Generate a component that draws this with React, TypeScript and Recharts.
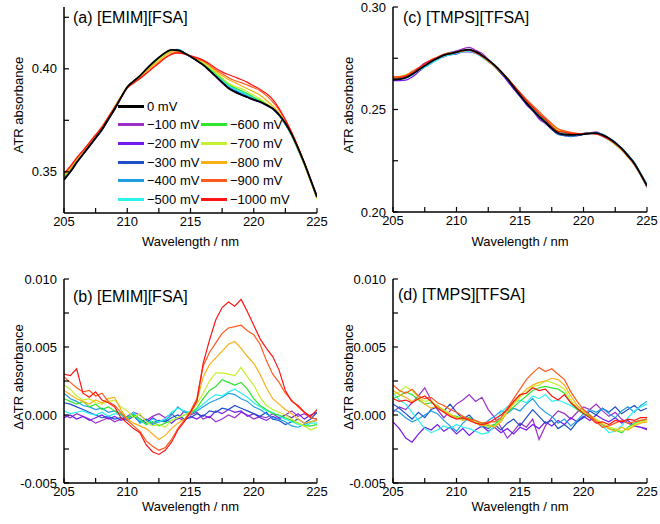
import React from "react";
import { LineChart, Line, XAxis, YAxis } from "recharts";

const FONT = "'Liberation Sans', Arial, sans-serif";

const wavelength = [205, 205.5, 206, 206.5, 207, 207.5, 208, 208.5, 209, 209.5, 210, 210.5, 211, 211.5, 212, 212.5, 213, 213.5, 214, 214.5, 215, 215.5, 216, 216.5, 217, 217.5, 218, 218.5, 219, 219.5, 220, 220.5, 221, 221.5, 222, 222.5, 223, 223.5, 224, 224.5, 225];
const xTicks = [205, 207.5, 210, 212.5, 215, 217.5, 220, 222.5, 225];
const xLabels = [205, 210, 215, 220, 225];

const seriesNames = ["0 mV", "−100 mV", "−200 mV", "−300 mV", "−400 mV", "−500 mV", "−600 mV", "−700 mV", "−800 mV", "−900 mV", "−1000 mV"];
const seriesColors = ["#000000", "#9b30c8", "#7418f0", "#1c4fc8", "#1f9ee6", "#2cf2ee", "#2ee62e", "#c4f032", "#f8b014", "#ff5a1e", "#ff1414"];

// (a) [EMIM][FSA] ATR absorbance
const emimAbs0 = [0.3462, 0.35, 0.3545, 0.3585, 0.3625, 0.3665, 0.3705, 0.3755, 0.3805, 0.386, 0.3912, 0.394, 0.3966, 0.3998, 0.4028, 0.4055, 0.4078, 0.4092, 0.409, 0.4077, 0.406, 0.404, 0.4019, 0.3992, 0.3963, 0.3934, 0.3906, 0.3888, 0.3874, 0.3862, 0.385, 0.384, 0.3825, 0.3807, 0.3777, 0.3736, 0.3682, 0.3615, 0.3542, 0.3461, 0.3378];
const emimAbs100 = [0.3462, 0.3499, 0.3545, 0.3584, 0.3622, 0.3661, 0.3701, 0.3752, 0.3802, 0.3858, 0.3911, 0.394, 0.3966, 0.3996, 0.4027, 0.4055, 0.4077, 0.4092, 0.4089, 0.4078, 0.406, 0.4041, 0.4018, 0.399, 0.396, 0.3931, 0.3905, 0.3887, 0.3874, 0.3862, 0.3848, 0.3838, 0.3823, 0.3807, 0.3776, 0.3736, 0.3683, 0.3615, 0.3542, 0.346, 0.3376];
const emimAbs200 = [0.346, 0.3499, 0.3543, 0.3583, 0.3622, 0.3663, 0.3704, 0.3753, 0.3803, 0.3857, 0.391, 0.3939, 0.3963, 0.3994, 0.4025, 0.4051, 0.4074, 0.4088, 0.4087, 0.4074, 0.4058, 0.4038, 0.4018, 0.3991, 0.3964, 0.3936, 0.3909, 0.3891, 0.3876, 0.3862, 0.385, 0.3838, 0.3822, 0.3805, 0.3775, 0.3735, 0.3681, 0.3615, 0.354, 0.3461, 0.3379];
const emimAbs300 = [0.3471, 0.3508, 0.3551, 0.3589, 0.3627, 0.3665, 0.3703, 0.3754, 0.3803, 0.3858, 0.3909, 0.3938, 0.3962, 0.3995, 0.4023, 0.4051, 0.4074, 0.409, 0.409, 0.4075, 0.4058, 0.404, 0.4019, 0.3994, 0.3965, 0.3938, 0.391, 0.3894, 0.3879, 0.3865, 0.3851, 0.384, 0.3826, 0.3805, 0.3773, 0.373, 0.3677, 0.3611, 0.3537, 0.3458, 0.3379];
const emimAbs400 = [0.3478, 0.3512, 0.3555, 0.3592, 0.3631, 0.3669, 0.371, 0.3757, 0.3808, 0.386, 0.391, 0.3939, 0.3961, 0.3993, 0.4022, 0.405, 0.4075, 0.4092, 0.4094, 0.4079, 0.4061, 0.4043, 0.4023, 0.3998, 0.397, 0.3943, 0.3919, 0.3901, 0.3885, 0.3871, 0.3856, 0.3844, 0.3826, 0.3805, 0.3774, 0.3731, 0.3674, 0.3606, 0.3535, 0.3456, 0.3374];
const emimAbs500 = [0.3465, 0.3502, 0.3547, 0.3587, 0.3626, 0.3666, 0.3706, 0.3755, 0.3805, 0.386, 0.3911, 0.3939, 0.3963, 0.3994, 0.4024, 0.4051, 0.4076, 0.4092, 0.4092, 0.4079, 0.4062, 0.4043, 0.4024, 0.3999, 0.3972, 0.3944, 0.3919, 0.3903, 0.3889, 0.3874, 0.3859, 0.3846, 0.3828, 0.3809, 0.3776, 0.3733, 0.3677, 0.3608, 0.3534, 0.3455, 0.3372];
const emimAbs600 = [0.3474, 0.351, 0.3554, 0.3594, 0.3632, 0.3672, 0.371, 0.376, 0.3808, 0.3861, 0.391, 0.3939, 0.3963, 0.3992, 0.4022, 0.4048, 0.4072, 0.4088, 0.4088, 0.4077, 0.4061, 0.4044, 0.4026, 0.4003, 0.3976, 0.3952, 0.3925, 0.3908, 0.3895, 0.388, 0.3862, 0.3847, 0.3829, 0.3808, 0.3777, 0.3734, 0.3678, 0.3609, 0.3534, 0.3453, 0.3371];
const emimAbs700 = [0.3484, 0.3519, 0.3559, 0.3596, 0.3636, 0.3674, 0.3713, 0.3765, 0.3815, 0.3866, 0.3915, 0.394, 0.3966, 0.3993, 0.4021, 0.4047, 0.407, 0.4088, 0.4088, 0.4077, 0.4062, 0.4046, 0.4029, 0.4007, 0.3981, 0.3956, 0.393, 0.3914, 0.3904, 0.3889, 0.3872, 0.3854, 0.3833, 0.3811, 0.3779, 0.3736, 0.3679, 0.3609, 0.3534, 0.3451, 0.3369];
const emimAbs800 = [0.348, 0.3515, 0.3557, 0.3595, 0.3634, 0.3675, 0.3715, 0.3766, 0.3817, 0.3865, 0.3909, 0.3934, 0.3958, 0.3988, 0.4014, 0.4038, 0.4063, 0.4082, 0.4084, 0.4074, 0.4061, 0.4048, 0.4036, 0.4014, 0.3988, 0.3967, 0.3948, 0.3934, 0.3918, 0.3903, 0.3888, 0.3872, 0.3847, 0.382, 0.3785, 0.374, 0.3683, 0.3612, 0.3536, 0.3456, 0.3374];
const emimAbs900 = [0.349, 0.3524, 0.3566, 0.3603, 0.3642, 0.368, 0.3719, 0.3765, 0.3812, 0.3862, 0.3908, 0.3932, 0.3954, 0.3979, 0.4005, 0.403, 0.4054, 0.4074, 0.408, 0.4073, 0.4063, 0.405, 0.4038, 0.4019, 0.3995, 0.3976, 0.3957, 0.3943, 0.3933, 0.3921, 0.3908, 0.3894, 0.387, 0.384, 0.3801, 0.3752, 0.3693, 0.3621, 0.3544, 0.3459, 0.3375];
const emimAbs1000 = [0.3492, 0.3528, 0.3568, 0.3603, 0.364, 0.3679, 0.3716, 0.3764, 0.3811, 0.3859, 0.3906, 0.393, 0.3952, 0.3977, 0.4002, 0.4027, 0.4052, 0.407, 0.4076, 0.4072, 0.4063, 0.4054, 0.4042, 0.4024, 0.4003, 0.3985, 0.3972, 0.396, 0.3948, 0.3934, 0.3917, 0.39, 0.388, 0.3852, 0.3808, 0.3752, 0.369, 0.362, 0.3544, 0.3461, 0.338];

// (b) [EMIM][FSA] difference spectra
const emimDiff100 = [0, -0.0002, 0.0001, -0.0001, -0.0003, -0.0006, -0.0004, -0.0002, -0.0005, -0.0003, -0.0001, 0.0002, 0, -0.0004, -0.0001, 0.0001, -0.0002, 0.0001, -0.0003, 0.0003, 0, 0.0002, -0.0003, -0.0001, -0.0005, -0.0003, 0, -0.0002, 0.0002, 0, -0.0003, -0.0001, -0.0002, 0.0001, -0.0002, 0, 0.0003, -0.0001, 0.0001, -0.0002, -0.0003];
const emimDiff200 = [-0.0002, 0, -0.0003, -0.0001, -0.0004, -0.0002, 0, -0.0003, -0.0001, -0.0004, -0.0002, 0.0001, -0.0003, -0.0006, -0.0002, -0.0005, -0.0003, -0.0006, -0.0002, -0.0004, -0.0001, -0.0003, 0, -0.0002, 0.0003, 0.0001, 0.0004, 0.0002, 0.0003, -0.0001, 0.0001, -0.0002, -0.0004, -0.0001, -0.0003, 0, -0.0002, 0.0001, -0.0003, 0, 0.0002];
const emimDiff300 = [0.0009, 0.0008, 0.0006, 0.0004, 0.0002, 0, -0.0002, -0.0001, -0.0003, -0.0002, -0.0004, -0.0001, -0.0005, -0.0003, -0.0006, -0.0004, -0.0005, -0.0002, 0, -0.0003, -0.0002, 0.0001, -0.0001, 0.0003, 0.0002, 0.0005, 0.0004, 0.0007, 0.0005, 0.0003, 0.0001, -0.0001, 0.0002, -0.0003, -0.0004, -0.0007, -0.0005, -0.0003, -0.0006, -0.0003, 0.0002];
const emimDiff400 = [0.0016, 0.0012, 0.001, 0.0007, 0.0006, 0.0004, 0.0005, 0.0002, 0.0003, 0, -0.0003, 0.0001, -0.0006, -0.0004, -0.0007, -0.0005, -0.0004, 0, 0.0006, 0.0002, 0.0001, 0.0003, 0.0006, 0.0009, 0.0011, 0.0013, 0.0016, 0.0015, 0.0012, 0.001, 0.0006, 0.0004, 0.0001, -0.0002, -0.0003, -0.0005, -0.0008, -0.0009, -0.0007, -0.0005, -0.0004];
const emimDiff500 = [0.0003, 0.0001, 0.0002, 0.0003, 0.0001, 0, 0.0002, -0.0001, 0.0001, 0, -0.0002, 0.0002, -0.0004, -0.0007, -0.0003, -0.0005, -0.0003, 0.0002, 0.0005, 0.0003, 0.0002, 0.0004, 0.0008, 0.0012, 0.0015, 0.0014, 0.0017, 0.0019, 0.0016, 0.0013, 0.0009, 0.0006, 0.0003, 0.0002, -0.0001, -0.0003, -0.0005, -0.0007, -0.0008, -0.0006, -0.0006];
const emimDiff600 = [0.0012, 0.001, 0.0008, 0.001, 0.0006, 0.0008, 0.0004, 0.0006, 0.0003, 0.0001, -0.0002, 0, -0.0003, -0.0007, -0.0005, -0.0008, -0.0006, -0.0004, -0.0002, 0, 0.0001, 0.0005, 0.0012, 0.0018, 0.0021, 0.0026, 0.0024, 0.0022, 0.0024, 0.0019, 0.0012, 0.0007, 0.0004, 0.0001, 0, -0.0002, -0.0004, -0.0006, -0.0008, -0.0008, -0.0007];
const emimDiff700 = [0.0022, 0.0019, 0.0014, 0.0011, 0.0012, 0.0009, 0.0008, 0.001, 0.0011, 0.0006, 0.0003, -0.0002, 0.0001, -0.0005, -0.0008, -0.0007, -0.0009, -0.0004, -0.0002, 0, 0.0002, 0.0008, 0.0016, 0.0025, 0.0031, 0.0031, 0.003, 0.0029, 0.0035, 0.0028, 0.0022, 0.0013, 0.0007, 0.0004, 0.0002, 0, -0.0003, -0.0006, -0.0008, -0.0011, -0.0009];
const emimDiff800 = [0.0018, 0.0015, 0.0012, 0.001, 0.0008, 0.0011, 0.0009, 0.0012, 0.0013, 0.0004, -0.0003, -0.0006, -0.0008, -0.001, -0.0014, -0.0018, -0.0015, -0.001, -0.0006, -0.0003, 0.0001, 0.001, 0.0028, 0.0037, 0.0042, 0.0047, 0.0052, 0.0054, 0.0049, 0.0043, 0.0038, 0.003, 0.002, 0.0012, 0.0008, 0.0004, 0.0001, -0.0003, -0.0006, -0.0005, -0.0004];
const emimDiff900 = [0.0028, 0.0024, 0.002, 0.0017, 0.0018, 0.0014, 0.0016, 0.001, 0.0007, 0.0002, -0.0004, -0.0008, -0.0012, -0.0019, -0.0023, -0.0026, -0.0024, -0.0018, -0.001, -0.0004, 0.0003, 0.0012, 0.0036, 0.0046, 0.0053, 0.006, 0.0064, 0.0065, 0.0066, 0.0062, 0.0059, 0.0052, 0.004, 0.003, 0.0024, 0.0016, 0.0011, 0.0006, 0.0002, -0.0002, -0.0003];
const emimDiff1000 = [0.003, 0.0029, 0.0034, 0.0016, 0.0013, 0.0017, 0.0011, 0.0009, 0.0006, -0.0002, -0.0006, -0.001, -0.0013, -0.0022, -0.0027, -0.0029, -0.0026, -0.002, -0.0011, -0.0005, 0.0002, 0.001, 0.0038, 0.0055, 0.007, 0.0079, 0.0083, 0.008, 0.0085, 0.0076, 0.0066, 0.0056, 0.0049, 0.0043, 0.0033, 0.0018, 0.001, 0.0007, 0.0002, -0.0001, 0.0004];

// (c) [TMPS][TFSA] ATR absorbance
const tmpsAbs0 = [0.2645, 0.2648, 0.2655, 0.2672, 0.2693, 0.2713, 0.2733, 0.275, 0.2765, 0.2773, 0.278, 0.2788, 0.2792, 0.2782, 0.2765, 0.2742, 0.2716, 0.2685, 0.265, 0.261, 0.257, 0.2532, 0.2498, 0.2466, 0.2438, 0.2408, 0.2385, 0.2378, 0.2376, 0.2377, 0.238, 0.2384, 0.2385, 0.2375, 0.236, 0.2337, 0.231, 0.2275, 0.2237, 0.2185, 0.2128];
const tmpsAbs100 = [0.2646, 0.2652, 0.2658, 0.2678, 0.2703, 0.2727, 0.2741, 0.2753, 0.2764, 0.2775, 0.2786, 0.2796, 0.2803, 0.2789, 0.2774, 0.2745, 0.2715, 0.2679, 0.2638, 0.2602, 0.2566, 0.2526, 0.2496, 0.2453, 0.2432, 0.2407, 0.2387, 0.2379, 0.2374, 0.2378, 0.2384, 0.2387, 0.2391, 0.2377, 0.2359, 0.2338, 0.2308, 0.2271, 0.2231, 0.2179, 0.212];
const tmpsAbs200 = [0.2641, 0.2641, 0.2643, 0.2658, 0.2683, 0.2707, 0.2725, 0.2745, 0.2757, 0.2767, 0.277, 0.2781, 0.2781, 0.2774, 0.2759, 0.2734, 0.271, 0.2676, 0.2643, 0.26, 0.2564, 0.2524, 0.2493, 0.2459, 0.2434, 0.2402, 0.2382, 0.2373, 0.2375, 0.2373, 0.2379, 0.2381, 0.2385, 0.2373, 0.2356, 0.2336, 0.2306, 0.2272, 0.2231, 0.2179, 0.2121];
const tmpsAbs300 = [0.2651, 0.2652, 0.2656, 0.267, 0.2694, 0.2712, 0.2736, 0.2754, 0.2767, 0.2779, 0.2781, 0.2786, 0.2792, 0.2778, 0.2759, 0.2735, 0.2711, 0.2677, 0.2646, 0.2608, 0.2564, 0.2531, 0.2501, 0.2465, 0.2434, 0.2405, 0.2378, 0.2373, 0.2368, 0.2373, 0.2379, 0.2386, 0.2385, 0.2379, 0.2361, 0.2341, 0.2311, 0.2278, 0.2242, 0.2187, 0.2132];
const tmpsAbs400 = [0.2648, 0.2649, 0.2654, 0.2668, 0.2691, 0.2713, 0.2735, 0.2751, 0.2762, 0.2767, 0.2772, 0.2784, 0.2791, 0.2778, 0.2759, 0.2739, 0.2715, 0.2687, 0.2651, 0.2614, 0.2572, 0.2538, 0.2506, 0.247, 0.2439, 0.2407, 0.2381, 0.2376, 0.237, 0.2374, 0.2381, 0.2387, 0.2386, 0.2379, 0.2361, 0.2336, 0.2312, 0.2279, 0.2238, 0.219, 0.2135];
const tmpsAbs500 = [0.2656, 0.2656, 0.2661, 0.2673, 0.269, 0.2706, 0.2724, 0.2742, 0.2759, 0.2766, 0.2775, 0.2782, 0.2785, 0.2774, 0.2755, 0.2733, 0.271, 0.2686, 0.2654, 0.2616, 0.2578, 0.2538, 0.2508, 0.2474, 0.2449, 0.2415, 0.2393, 0.2384, 0.2381, 0.238, 0.2381, 0.2383, 0.2382, 0.2369, 0.2351, 0.2329, 0.2304, 0.2274, 0.2239, 0.2189, 0.2134];
const tmpsAbs600 = [0.2653, 0.2658, 0.2667, 0.2683, 0.2701, 0.2719, 0.2739, 0.2755, 0.2767, 0.2773, 0.2779, 0.2786, 0.2791, 0.2778, 0.2761, 0.2736, 0.2711, 0.2683, 0.2651, 0.2614, 0.2577, 0.2542, 0.2511, 0.248, 0.2453, 0.2422, 0.2398, 0.2389, 0.2382, 0.238, 0.2381, 0.2383, 0.2382, 0.237, 0.2353, 0.2329, 0.2301, 0.2269, 0.2233, 0.2182, 0.2125];
const tmpsAbs700 = [0.2656, 0.266, 0.267, 0.2685, 0.2702, 0.272, 0.2741, 0.2754, 0.2768, 0.2774, 0.2779, 0.2787, 0.2789, 0.2778, 0.276, 0.2736, 0.271, 0.2682, 0.2652, 0.2616, 0.2579, 0.2544, 0.2513, 0.2481, 0.2456, 0.2425, 0.24, 0.2391, 0.2384, 0.2381, 0.2381, 0.2384, 0.2383, 0.2371, 0.2354, 0.233, 0.2302, 0.2268, 0.2232, 0.2181, 0.2125];
const tmpsAbs800 = [0.2658, 0.2659, 0.2664, 0.2679, 0.2701, 0.2719, 0.2737, 0.2755, 0.2767, 0.2773, 0.2779, 0.2785, 0.279, 0.2778, 0.2759, 0.2737, 0.271, 0.2681, 0.2651, 0.2616, 0.258, 0.2545, 0.2513, 0.2483, 0.2456, 0.2427, 0.2403, 0.2393, 0.2386, 0.2382, 0.2382, 0.2384, 0.2382, 0.237, 0.2353, 0.2329, 0.2304, 0.2267, 0.2231, 0.2181, 0.2124];
const tmpsAbs900 = [0.266, 0.2661, 0.2666, 0.2685, 0.2703, 0.2721, 0.2742, 0.2756, 0.277, 0.2776, 0.2781, 0.2787, 0.279, 0.2779, 0.2761, 0.2738, 0.2712, 0.2684, 0.2654, 0.2618, 0.2583, 0.255, 0.252, 0.2491, 0.246, 0.2432, 0.2406, 0.2396, 0.2388, 0.2384, 0.2383, 0.2384, 0.2381, 0.2369, 0.2354, 0.2333, 0.2307, 0.2271, 0.2233, 0.2182, 0.2126];
const tmpsAbs1000 = [0.2653, 0.2655, 0.2663, 0.2678, 0.2701, 0.2723, 0.274, 0.2754, 0.2766, 0.2772, 0.2778, 0.2787, 0.2789, 0.2778, 0.276, 0.2738, 0.2714, 0.2685, 0.2653, 0.2617, 0.2581, 0.2543, 0.2512, 0.2479, 0.2451, 0.2418, 0.2393, 0.2389, 0.2382, 0.2381, 0.2381, 0.2383, 0.2381, 0.2371, 0.2355, 0.2334, 0.2306, 0.2273, 0.2234, 0.2184, 0.2127];

// (d) [TMPS][TFSA] difference spectra
const tmpsDiff100 = [0.0002, 0.0006, 0.0004, 0.0009, 0.0014, 0.002, 0.0011, 0.0004, -0.0002, 0.0003, 0.0008, 0.0011, 0.0015, 0.001, 0.0013, 0.0004, -0.0002, -0.0009, -0.0017, -0.0012, -0.0006, -0.0009, -0.0003, -0.0018, -0.0008, -0.0002, 0.0003, 0.0001, -0.0003, 0.0002, 0.0006, 0.0004, 0.0008, 0.0003, -0.0001, 0.0002, -0.0003, -0.0006, -0.0008, -0.0009, -0.0011];
const tmpsDiff200 = [-0.0005, -0.001, -0.0017, -0.002, -0.0014, -0.0009, -0.0011, -0.0007, -0.0012, -0.0009, -0.0014, -0.001, -0.0015, -0.0011, -0.0008, -0.0012, -0.0009, -0.0013, -0.001, -0.0014, -0.0009, -0.0011, -0.0007, -0.001, -0.0005, -0.0008, -0.0004, -0.0007, -0.0002, -0.0005, -0.0001, -0.0004, 0, -0.0003, -0.0005, -0.0002, -0.0006, -0.0004, -0.0008, -0.0009, -0.001];
const tmpsDiff300 = [0.0008, 0.0005, 0.0001, -0.0003, 0.0002, -0.0002, 0.0004, 0.0006, 0.0003, 0.0008, 0.0002, -0.0003, 0, -0.0005, -0.0008, -0.001, -0.0007, -0.0011, -0.0006, -0.0003, -0.0008, -0.0002, 0.0004, -0.0001, -0.0006, -0.0004, -0.001, -0.0007, -0.0011, -0.0005, -0.0002, 0.0003, 0, 0.0005, 0.0002, 0.0006, 0.0001, 0.0004, 0.0007, 0.0003, 0.0005];
const tmpsDiff400 = [0.0004, 0.0002, -0.0002, -0.0005, -0.0003, 0, 0.0003, 0.0001, -0.0004, -0.0008, -0.0012, -0.0006, -0.0002, -0.0005, -0.0009, -0.0004, -0.0001, 0.0003, 0.0001, 0.0005, 0.0003, 0.0008, 0.0012, 0.0006, 0.0002, -0.0001, -0.0006, -0.0003, -0.0008, -0.0004, 0.0001, 0.0004, 0.0002, 0.0005, 0.0001, -0.0002, 0.0003, 0.0006, 0.0002, 0.0007, 0.001];
const tmpsDiff500 = [0.0016, 0.0011, 0.0008, 0.0002, -0.0004, -0.001, -0.0013, -0.0011, -0.0008, -0.001, -0.0007, -0.0009, -0.001, -0.0012, -0.0014, -0.0013, -0.0008, 0.0002, 0.0006, 0.0009, 0.0011, 0.0009, 0.0014, 0.0012, 0.0015, 0.001, 0.0011, 0.0009, 0.0007, 0.0004, 0.0001, -0.0002, -0.0004, -0.0008, -0.0013, -0.0012, -0.0008, -0.0002, 0.0003, 0.0006, 0.0008];
const tmpsDiff600 = [0.0012, 0.0014, 0.0017, 0.0015, 0.0011, 0.0008, 0.0009, 0.0007, 0.0003, 0, -0.0001, -0.0003, -0.0002, -0.0005, -0.0006, -0.0008, -0.0007, -0.0003, 0.0002, 0.0006, 0.001, 0.0014, 0.0018, 0.002, 0.0021, 0.002, 0.0019, 0.0016, 0.0009, 0.0004, 0.0001, -0.0001, -0.0004, -0.0007, -0.001, -0.0011, -0.0013, -0.0009, -0.0006, -0.0004, -0.0004];
const tmpsDiff700 = [0.0015, 0.0017, 0.0021, 0.0018, 0.0013, 0.001, 0.0011, 0.0006, 0.0004, 0.0001, -0.0002, -0.0001, -0.0004, -0.0005, -0.0007, -0.0009, -0.0008, -0.0004, 0.0003, 0.0008, 0.0013, 0.0017, 0.0021, 0.0022, 0.0025, 0.0024, 0.0022, 0.0019, 0.0011, 0.0005, 0.0002, 0, -0.0003, -0.0006, -0.0009, -0.001, -0.0012, -0.001, -0.0007, -0.0005, -0.0004];
const tmpsDiff800 = [0.0018, 0.0015, 0.0013, 0.001, 0.0012, 0.0008, 0.0005, 0.0007, 0.0003, 0, -0.0002, -0.0004, -0.0003, -0.0006, -0.0008, -0.0007, -0.0009, -0.0005, 0.0002, 0.0009, 0.0014, 0.0019, 0.0022, 0.0024, 0.0025, 0.0027, 0.0026, 0.0022, 0.0014, 0.0007, 0.0003, 0, -0.0004, -0.0007, -0.001, -0.0012, -0.0009, -0.0011, -0.0008, -0.0006, -0.0005];
const tmpsDiff900 = [0.0022, 0.0018, 0.0016, 0.0019, 0.0014, 0.0012, 0.0013, 0.0009, 0.0007, 0.0004, 0.0002, -0.0001, -0.0003, -0.0004, -0.0006, -0.0005, -0.0005, -0.0002, 0.0005, 0.0012, 0.0019, 0.0026, 0.0031, 0.0035, 0.0032, 0.0034, 0.003, 0.0026, 0.0017, 0.001, 0.0004, 0, -0.0005, -0.0009, -0.0008, -0.0006, -0.0004, -0.0006, -0.0005, -0.0004, -0.0003];
const tmpsDiff1000 = [0.0012, 0.001, 0.0011, 0.0009, 0.0012, 0.0014, 0.001, 0.0005, 0.0002, -0.0001, -0.0003, -0.0002, -0.0004, -0.0006, -0.0007, -0.0006, -0.0003, 0, 0.0004, 0.001, 0.0015, 0.0016, 0.002, 0.0018, 0.0019, 0.0014, 0.0011, 0.0015, 0.0009, 0.0005, 0.0001, -0.0002, -0.0006, -0.0005, -0.0007, -0.0004, -0.0005, -0.0003, -0.0004, -0.0002, -0.0002];

const emimAbs = [emimAbs0, emimAbs100, emimAbs200, emimAbs300, emimAbs400, emimAbs500, emimAbs600, emimAbs700, emimAbs800, emimAbs900, emimAbs1000];
const emimDiff = [emimDiff100, emimDiff200, emimDiff300, emimDiff400, emimDiff500, emimDiff600, emimDiff700, emimDiff800, emimDiff900, emimDiff1000];
const tmpsAbs = [tmpsAbs0, tmpsAbs100, tmpsAbs200, tmpsAbs300, tmpsAbs400, tmpsAbs500, tmpsAbs600, tmpsAbs700, tmpsAbs800, tmpsAbs900, tmpsAbs1000];
const tmpsDiff = [tmpsDiff100, tmpsDiff200, tmpsDiff300, tmpsDiff400, tmpsDiff500, tmpsDiff600, tmpsDiff700, tmpsDiff800, tmpsDiff900, tmpsDiff1000];

type PanelProps = {
  left: number;
  top: number;
  series: number[][];
  firstColor: number;
  smooth: boolean;
  yDomain: [number, number];
  yTicks: number[];
  yLabels: number[];
  digits: number;
  yTitle: string;
  tag: string;
  tagX: number;
  tagY: number;
  mTop: number;
  mBottom: number;
  mLeft: number;
  titleY: number;
  yTitleY: number;
  legend?: boolean;
};

const axisCommon = {
  stroke: "#000",
  axisLine: { stroke: "#000", strokeWidth: 1.5 },
  tickLine: { stroke: "#000", strokeWidth: 1.2 },
  tickSize: -5,
  interval: 0 as const,
  allowDataOverflow: true,
};

function Panel(p: PanelProps) {
  const data = wavelength.map((w, i) => {
    const row: Record<string, number> = { w };
    p.series.forEach((s, k) => {
      row["s" + k] = s[i];
    });
    return row;
  });
  // 0 mV (black) goes on top of the coloured curves
  const order = p.series.map((_, k) => k);
  if (p.firstColor === 0) order.push(order.shift() as number);
  const plotLeft = p.mLeft + 54;
  const plotRight = 330 - 13;
  return (
    <div style={{ position: "absolute", left: p.left, top: p.top, width: 330, height: 262 }}>
      <LineChart width={330} height={262} data={data} margin={{ top: p.mTop, right: 13, bottom: p.mBottom, left: p.mLeft }} style={{ fontFamily: FONT }}>
        <XAxis
          xAxisId="b"
          dataKey="w"
          type="number"
          domain={[205, 225]}
          ticks={xTicks}
          tickFormatter={(v: number) => (xLabels.includes(v) ? String(v) : "")}
          height={30}
          tickMargin={9}
          tick={{ fill: "#000", fontSize: 13, fontFamily: FONT }}
          {...axisCommon}
        />
        <XAxis xAxisId="t" orientation="top" dataKey="w" type="number" domain={[205, 225]} ticks={xTicks} height={0} tick={false} {...axisCommon} />
        <YAxis
          yAxisId="l"
          type="number"
          domain={p.yDomain}
          ticks={p.yTicks}
          width={54}
          tickMargin={12}
          tickFormatter={(v: number) => (p.yLabels.includes(v) ? v.toFixed(p.digits) : "")}
          tick={{ fill: "#000", fontSize: 13, fontFamily: FONT }}
          {...axisCommon}
        />
        <YAxis yAxisId="r" orientation="right" type="number" domain={p.yDomain} ticks={p.yTicks} width={0} tick={false} {...axisCommon} />
        {order.map((k) => {
          const ci = k + p.firstColor;
          return (
            <Line
              key={ci}
              xAxisId="b"
              yAxisId="l"
              dataKey={"s" + k}
              type={p.smooth ? "monotone" : "linear"}
              stroke={seriesColors[ci]}
              strokeWidth={ci === 0 ? 1.8 : 1.2}
              dot={false}
              activeDot={false}
              isAnimationActive={false}
            />
          );
        })}
      </LineChart>
      <div style={{ position: "absolute", left: p.tagX, top: p.tagY, fontSize: 16, lineHeight: "16px", fontFamily: FONT, whiteSpace: "nowrap" }}>{p.tag}</div>
      <div
        style={{
          position: "absolute",
          left: plotLeft,
          width: plotRight - plotLeft,
          top: p.titleY - 8,
          fontSize: 13,
          lineHeight: "16px",
          textAlign: "center",
          fontFamily: FONT,
        }}
      >
        Wavelength / nm
      </div>
      <div
        style={{
          position: "absolute",
          left: 19,
          top: p.yTitleY,
          transform: "translate(-50%, -50%) rotate(-90deg)",
          fontSize: 13,
          lineHeight: "16px",
          fontFamily: FONT,
          whiteSpace: "nowrap",
        }}
      >
        {p.yTitle}
      </div>
      {p.legend &&
        seriesNames.map((name, k) => {
          const col = k < 6 ? 0 : 1;
          const row = k < 6 ? k : k - 5;
          return (
            <div
              key={name}
              style={{
                position: "absolute",
                left: col === 0 ? 118 : 201,
                top: 106 + row * 18.7 - 8,
                height: 16,
                display: "flex",
                alignItems: "center",
                fontSize: 13,
                fontFamily: FONT,
                whiteSpace: "nowrap",
              }}
            >
              <span style={{ display: "inline-block", width: 26, height: 3, background: seriesColors[k], marginRight: 3 }} />
              <span>{name}</span>
            </div>
          );
        })}
    </div>
  );
}

export default function App() {
  return (
    <div style={{ position: "fixed", left: 0, top: 0, width: 660, height: 524, background: "#fff", overflow: "hidden" }}>
      <Panel
        left={0}
        top={0}
        series={emimAbs}
        firstColor={0}
        smooth
        yDomain={[0.33, 0.43]}
        yTicks={[0.35, 0.375, 0.4, 0.425]}
        yLabels={[0.35, 0.4]}
        digits={2}
        yTitle="ATR absorbance"
        tag="(a) [EMIM][FSA]"
        tagX={73}
        tagY={10}
        mTop={7}
        mBottom={19}
        mLeft={10}
        titleY={242}
        yTitleY={105}
        legend
      />
      <Panel
        left={330}
        top={0}
        series={tmpsAbs}
        firstColor={0}
        smooth
        yDomain={[0.2, 0.3]}
        yTicks={[0.2, 0.225, 0.25, 0.275, 0.3]}
        yLabels={[0.2, 0.25, 0.3]}
        digits={2}
        yTitle="ATR absorbance"
        tag="(c) [TMPS][TFSA]"
        tagX={73}
        tagY={10}
        mTop={7}
        mBottom={20}
        mLeft={9}
        titleY={242}
        yTitleY={105}
      />
      <Panel
        left={0}
        top={262}
        series={emimDiff}
        firstColor={1}
        smooth={false}
        yDomain={[-0.005, 0.01]}
        yTicks={[-0.005, -0.0025, 0, 0.0025, 0.005, 0.0075, 0.01]}
        yLabels={[-0.005, 0, 0.005, 0.01]}
        digits={3}
        yTitle="ΔATR absorbance"
        tag="(b) [EMIM][FSA]"
        tagX={73}
        tagY={27}
        mTop={17}
        mBottom={11}
        mLeft={10}
        titleY={245}
        yTitleY={115}
      />
      <Panel
        left={330}
        top={262}
        series={tmpsDiff}
        firstColor={1}
        smooth={false}
        yDomain={[-0.005, 0.01]}
        yTicks={[-0.005, -0.0025, 0, 0.0025, 0.005, 0.0075, 0.01]}
        yLabels={[-0.005, 0, 0.005, 0.01]}
        digits={3}
        yTitle="ΔATR absorbance"
        tag="(d) [TMPS][TFSA]"
        tagX={68}
        tagY={25}
        mTop={17}
        mBottom={11}
        mLeft={9}
        titleY={245}
        yTitleY={115}
      />
    </div>
  );
}
